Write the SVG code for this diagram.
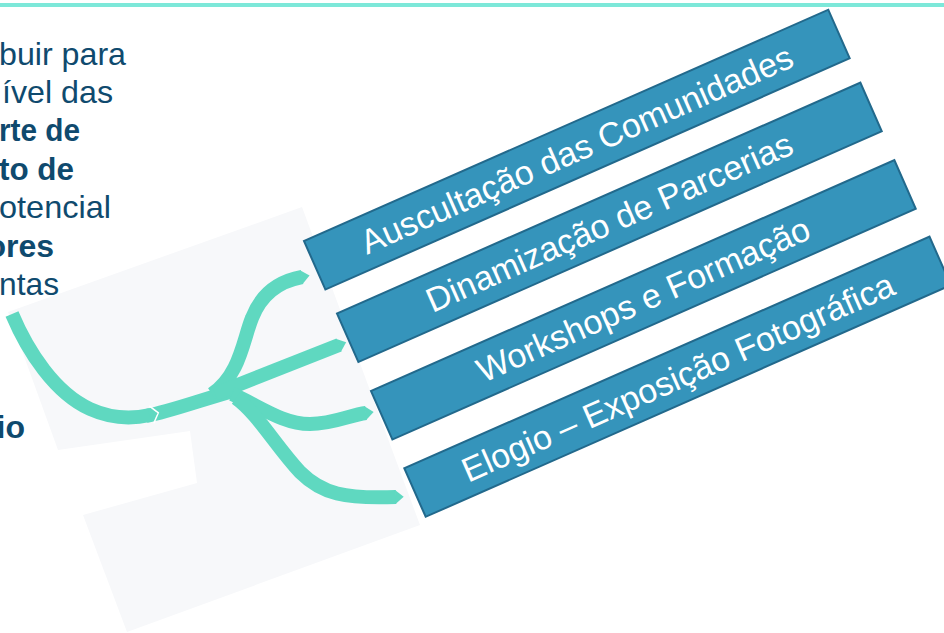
<svg xmlns="http://www.w3.org/2000/svg" width="944" height="633" viewBox="0 0 944 633">
  <style>
    .lt { font-family: "Liberation Sans", Arial, sans-serif; font-size: 32px; fill: #0f4a6e; }
    .b { font-weight: bold; }
    .box rect { fill: #3594bb; stroke: #22698c; stroke-width: 2; }
    .box text { font-family: "Liberation Sans", Arial, sans-serif; font-size: 34px; fill: #ffffff; text-anchor: middle; }
    .br { fill: none; stroke: #5fd8c0; stroke-width: 14; stroke-linecap: butt; }
  </style>
  <defs>
    <marker id="tip" markerUnits="strokeWidth" markerWidth="1" markerHeight="1" refX="0" refY="0" orient="auto" overflow="visible">
      <path d="M-0.05,-0.5 L0.55,0 L-0.05,0.5 Z" fill="#5fd8c0"/>
    </marker>
  </defs>
  <rect width="944" height="633" fill="#ffffff"/>
  <rect x="0" y="3" width="944" height="4" fill="#7de8d9"/>

  <g id="left-text">
    <text class="lt" x="-1" y="65" textLength="127" lengthAdjust="spacingAndGlyphs">buir para</text>
    <text class="lt" x="2" y="103" textLength="111" lengthAdjust="spacingAndGlyphs">ível das</text>
    <text class="lt b" x="-1" y="141" textLength="81" lengthAdjust="spacingAndGlyphs">rte de</text>
    <text class="lt b" x="-1" y="180" textLength="75" lengthAdjust="spacingAndGlyphs">to de</text>
    <text class="lt" x="-1" y="218" textLength="112" lengthAdjust="spacingAndGlyphs">otencial</text>
    <text class="lt b" x="54" y="257" text-anchor="end">ores</text>
    <text class="lt" x="-1" y="295" textLength="60" lengthAdjust="spacingAndGlyphs">ntas</text>
    <text class="lt b" x="25" y="438" text-anchor="end">io</text>
  </g>

  <g id="background">
    <polygon points="8,312 302,207 420,525 127,632 83,515 197,483 190,431 58,450" fill="#f7f8fa"/>
  </g>

  <g id="connectors">
    <path class="br" d="M146,416 C172,411 200,400 240,389"/>
    <path class="br" d="M212,394 C240,375 243,340 252,318 C260,297 275,282 302,277" marker-end="url(#tip)"/>
    <path class="br" d="M215,394 L339,345" marker-end="url(#tip)"/>
    <path class="br" d="M232,394 C258,405 282,424 310,424 C333,424 350,415 366,413" marker-end="url(#tip)"/>
    <path class="br" d="M236,398 C258,414 275,445 300,472 C322,494 345,499 396,497" marker-end="url(#tip)"/>
    <polyline points="149.2,405.9 158.3,412.8 153.8,423.3" fill="none" stroke="#ffffff" stroke-width="1.5"/>
    <path class="br" d="M12,314 C28,352 55,393 90,409 C112,419 132,419 150,415" marker-end="url(#tip)"/>
  </g>

  <g id="box1" class="box" transform="translate(304,241) rotate(-23.8)">
    <rect x="0" y="0" width="573" height="53"/>
    <text x="286.5" y="38">Auscultação das Comunidades</text>
  </g>
  <g id="box2" class="box" transform="translate(337,313.5) rotate(-23.8)">
    <rect x="0" y="0" width="572" height="53"/>
    <text x="286" y="38">Dinamização de Parcerias</text>
  </g>
  <g id="box3" class="box" transform="translate(371,391) rotate(-23.8)">
    <rect x="0" y="0" width="572" height="53"/>
    <text x="286" y="38">Workshops e Formação</text>
  </g>
  <g id="box4" class="box" transform="translate(404.3,468.3) rotate(-23.8)">
    <rect x="0" y="0" width="574" height="53"/>
    <text x="287" y="39">Elogio – Exposição Fotográfica</text>
  </g>
</svg>
